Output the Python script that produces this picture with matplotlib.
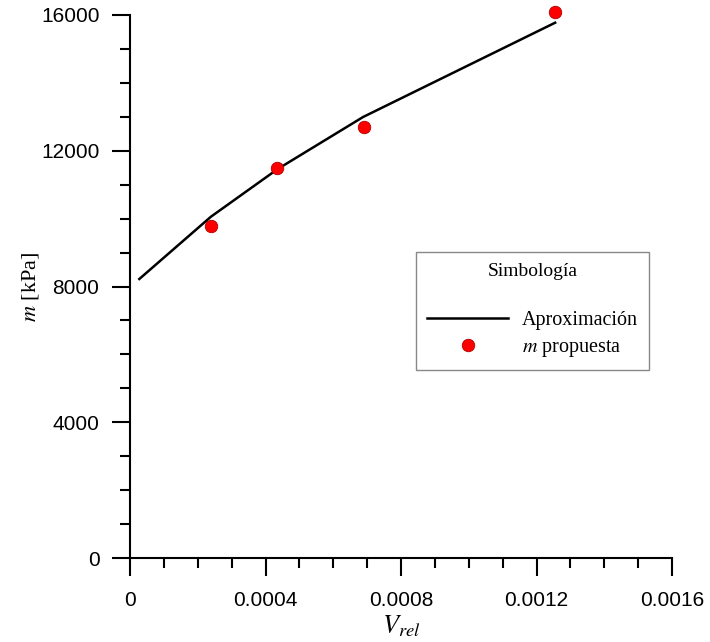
import matplotlib
matplotlib.use("Agg")
import matplotlib.pyplot as plt
from matplotlib.ticker import MultipleLocator, FixedFormatter, FixedLocator

plt.rcParams['mathtext.fontset'] = 'stix'

# Data
approx_x = [0.0000275, 0.000239, 0.000436, 0.000688, 0.001255]
approx_y = [8221, 10057, 11462, 12994, 15773]
prop_x = [0.000239, 0.000434, 0.000691, 0.001255]
prop_y = [9782, 11491, 12699, 16088]
xticks = [0, 0.0004, 0.0008, 0.0012, 0.0016]
xtick_labels = ["0", "0.0004", "0.0008", "0.0012", "0.0016"]
yticks = [0, 4000, 8000, 12000, 16000]
ytick_labels = ["0", "4000", "8000", "12000", "16000"]

fig = plt.figure(figsize=(7.1, 6.42), dpi=100)
ax = fig.add_axes([130/710, 1 - 558/642, 542/710, 543/642])

ax.plot(approx_x, approx_y, color='black', lw=1.8, label='Aproximación', zorder=2)
ax.plot(prop_x, prop_y, ls='none', marker='o', ms=9, mfc='#ff0000',
        mec='#b00000', mew=0.6, label=r'$m$ propuesta', clip_on=False, zorder=3)

ax.set_xlim(0, 0.0016)
ax.set_ylim(0, 16000)
ax.spines['top'].set_visible(False)
ax.spines['right'].set_visible(False)
for s in ('left', 'bottom'):
    ax.spines[s].set_linewidth(1.5)

ax.xaxis.set_major_locator(FixedLocator(xticks))
ax.xaxis.set_major_formatter(FixedFormatter(xtick_labels))
ax.yaxis.set_major_locator(FixedLocator(yticks))
ax.yaxis.set_major_formatter(FixedFormatter(ytick_labels))
ax.xaxis.set_minor_locator(MultipleLocator(0.0001))
ax.yaxis.set_minor_locator(MultipleLocator(1000))
ax.tick_params(which='major', direction='out', length=13, width=1.5,
               labelsize=15, pad=9)
ax.tick_params(which='minor', direction='out', length=7, width=1.5)
ax.tick_params(axis='x', which='major', pad=11)
for lab in ax.get_xticklabels() + ax.get_yticklabels():
    lab.set_family('Liberation Sans')

ax.set_xlabel(r'$V_{rel}$', fontsize=19, labelpad=2)
ax.set_ylabel(r'$m$ [kPa]', fontsize=16, family='Liberation Serif', labelpad=0)

leg = ax.legend(title='Simbología', loc='upper left',
                bbox_to_anchor=(0.528, 0.5635), borderaxespad=0,
                frameon=True, fancybox=False,
                edgecolor='#888888', framealpha=1, borderpad=0.55,
                handlelength=4.0, handletextpad=0.7, labelspacing=0.4,
                prop={'family': 'Liberation Serif', 'size': 14.5})
leg.get_title().set_family('Liberation Serif')
leg.get_title().set_fontsize(14)
leg.get_frame().set_linewidth(1.0)
leg._legend_box.sep = 22

fig.savefig('out.png', dpi=100)
